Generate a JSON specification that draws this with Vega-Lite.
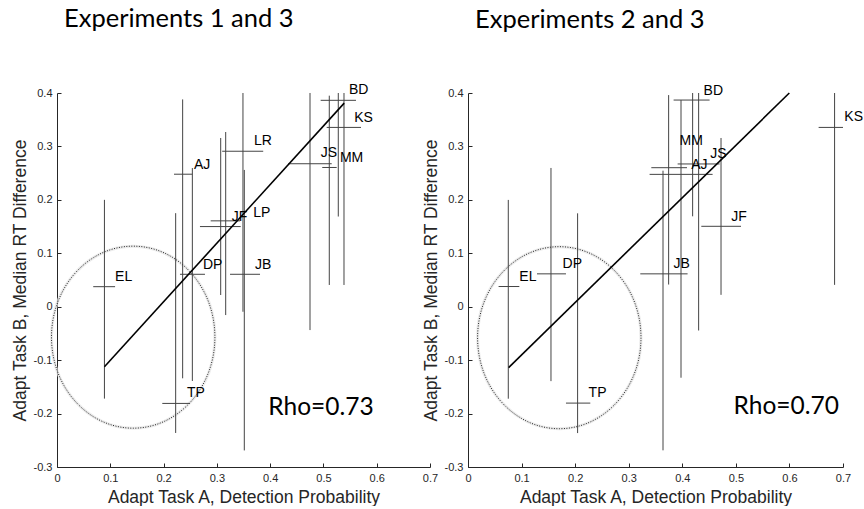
{
  "$schema": "https://vega.github.io/schema/vega-lite/v6.json",
  "background": "white",
  "padding": {"left": 11, "top": 7, "right": 0, "bottom": 0},
  "datasets": {
    "pts13": [
      {"id": "EL", "x": 0.089, "xlo": 0.068, "xhi": 0.109, "y": 0.0375, "ylo": -0.172, "yhi": 0.2, "lx": 0.109, "ly": 0.056},
      {"id": "AJ", "x": 0.2358, "xlo": 0.2196, "xhi": 0.2539, "y": 0.248, "ylo": -0.134, "yhi": 0.388, "lx": 0.257, "ly": 0.266},
      {"id": "DP", "x": 0.254, "xlo": 0.2308, "xhi": 0.2777, "y": 0.0607, "ylo": -0.139, "yhi": 0.2595, "lx": 0.274, "ly": 0.078},
      {"id": "TP", "x": 0.2227, "xlo": 0.1976, "xhi": 0.2496, "y": -0.181, "ylo": -0.2363, "yhi": 0.1751, "lx": 0.244, "ly": -0.161},
      {"id": "JB", "x": 0.3515, "xlo": 0.3247, "xhi": 0.381, "y": 0.0607, "ylo": -0.269, "yhi": 0.256, "lx": 0.3716, "ly": 0.078},
      {"id": "LR", "x": 0.349, "xlo": 0.31, "xhi": 0.387, "y": 0.291, "ylo": -0.0094, "yhi": 0.4, "lx": 0.3697, "ly": 0.311},
      {"id": "JF", "x": 0.3072, "xlo": 0.2683, "xhi": 0.3447, "y": 0.15, "ylo": 0.0219, "yhi": 0.3158, "lx": 0.3278, "ly": 0.1688},
      {"id": "LP", "x": 0.3166, "xlo": 0.2884, "xhi": 0.3434, "y": 0.1607, "ylo": -0.0156, "yhi": 0.327, "lx": 0.3684, "ly": 0.1763},
      {"id": "JS", "x": 0.4748, "xlo": 0.434, "xhi": 0.5155, "y": 0.2676, "ylo": -0.0437, "yhi": 0.4, "lx": 0.4948, "ly": 0.2876},
      {"id": "MM", "x": 0.511, "xlo": 0.4978, "xhi": 0.5249, "y": 0.2606, "ylo": 0.0407, "yhi": 0.395, "lx": 0.531, "ly": 0.2783},
      {"id": "BD", "x": 0.5279, "xlo": 0.4948, "xhi": 0.5611, "y": 0.3863, "ylo": 0.1688, "yhi": 0.4, "lx": 0.548, "ly": 0.406},
      {"id": "KS", "x": 0.5386, "xlo": 0.5061, "xhi": 0.5705, "y": 0.3356, "ylo": 0.0407, "yhi": 0.4, "lx": 0.5579, "ly": 0.3533}
    ],
    "pts23": [
      {"id": "EL", "x": 0.0752, "xlo": 0.0571, "xhi": 0.0958, "y": 0.0378, "ylo": -0.1722, "yhi": 0.1999, "lx": 0.0958, "ly": 0.0565},
      {"id": "DP", "x": 0.1549, "xlo": 0.1288, "xhi": 0.1829, "y": 0.0615, "ylo": -0.1393, "yhi": 0.2597, "lx": 0.1766, "ly": 0.0802},
      {"id": "TP", "x": 0.2046, "xlo": 0.1829, "xhi": 0.2283, "y": -0.1804, "ylo": -0.2365, "yhi": 0.1748, "lx": 0.2251, "ly": -0.1617},
      {"id": "JB", "x": 0.364, "xlo": 0.3216, "xhi": 0.4099, "y": 0.0615, "ylo": -0.2688, "yhi": 0.2546, "lx": 0.3838, "ly": 0.0802},
      {"id": "MM", "x": 0.3745, "xlo": 0.3422, "xhi": 0.4088, "y": 0.2602, "ylo": 0.0415, "yhi": 0.3961, "lx": 0.395, "ly": 0.3094},
      {"id": "AJ", "x": 0.3976, "xlo": 0.339, "xhi": 0.4566, "y": 0.2477, "ylo": -0.1329, "yhi": 0.3868, "lx": 0.4168, "ly": 0.2653},
      {"id": "BD", "x": 0.4193, "xlo": 0.3838, "xhi": 0.451, "y": 0.3868, "ylo": 0.1692, "yhi": 0.4, "lx": 0.4398, "ly": 0.4042},
      {"id": "JS", "x": 0.4305, "xlo": 0.3913, "xhi": 0.4697, "y": 0.2672, "ylo": -0.0445, "yhi": 0.4, "lx": 0.4523, "ly": 0.2858},
      {"id": "JF", "x": 0.4723, "xlo": 0.4355, "xhi": 0.5096, "y": 0.1505, "ylo": 0.0222, "yhi": 0.3158, "lx": 0.4915, "ly": 0.1686},
      {"id": "KS", "x": 0.6843, "xlo": 0.6545, "xhi": 0.7, "y": 0.3356, "ylo": 0.0409, "yhi": 0.4, "lx": 0.7025, "ly": 0.3543}
    ],
    "fit13": [{"x": 0.089, "y": -0.1125}, {"x": 0.539, "y": 0.381}],
    "fit23": [{"x": 0.0758, "y": -0.114}, {"x": 0.5998, "y": 0.4}],
    "ell13": [{"cx": 0.143, "cy": -0.057}],
    "ell23": [{"cx": 0.1704, "cy": -0.058}],
    "rho13": [{"lx": 0.3965, "ly": -0.203, "label": "Rho=0.73"}],
    "rho23": [{"lx": 0.4958, "ly": -0.2015, "label": "Rho=0.70"}]
  },
  "spacing": 38,
  "bounds": "flush",
  "hconcat": [
    {
      "width": 373,
      "height": 374,
      "title": {"text": "Experiments 1 and 3"},
      "layer": [
        {
          "data": {"name": "ell13"},
          "mark": {"type": "point", "shape": "M 1 0 C 1 0.6152 0.5523 1.114 0 1.114 C -0.5523 1.114 -1 0.6152 -1 0 C -1 -0.6152 -0.5523 -1.114 0 -1.114 C 0.5523 -1.114 1 -0.6152 1 0 Z", "size": 26700, "filled": false, "stroke": "#e4e4e4", "strokeWidth": 3, "opacity": 0.7},
          "encoding": {
            "x": {"field": "cx", "type": "quantitative", "title": "Adapt Task A, Detection Probability", "scale": {"domain": [0, 0.7], "nice": false}, "axis": {"values": [0, 0.1, 0.2, 0.3, 0.4, 0.5, 0.6, 0.7], "labelExpr": "replace(format(datum.value, '~g'), '−', '-')", "titlePadding": 5}},
            "y": {"field": "cy", "type": "quantitative", "title": "Adapt Task B, Median RT Difference", "scale": {"domain": [-0.3, 0.4], "nice": false}, "axis": {"values": [-0.3, -0.2, -0.1, 0, 0.1, 0.2, 0.3, 0.4], "labelExpr": "replace(format(datum.value, '~g'), '−', '-')", "titlePadding": 4}}
          }
        },
        {
          "data": {"name": "ell13"},
          "mark": {"type": "point", "shape": "M 1 0 C 1 0.6152 0.5523 1.114 0 1.114 C -0.5523 1.114 -1 0.6152 -1 0 C -1 -0.6152 -0.5523 -1.114 0 -1.114 C 0.5523 -1.114 1 -0.6152 1 0 Z", "size": 26700, "filled": false, "stroke": "#222222", "strokeWidth": 1, "strokeDash": [1, 1.5], "opacity": 1},
          "encoding": {
            "x": {"field": "cx", "type": "quantitative", "title": "Adapt Task A, Detection Probability"},
            "y": {"field": "cy", "type": "quantitative", "title": "Adapt Task B, Median RT Difference"}
          }
        },
        {
          "data": {"name": "pts13"},
          "mark": {"type": "rule", "color": "#444444", "strokeWidth": 1},
          "encoding": {
            "x": {"field": "x", "type": "quantitative", "title": "Adapt Task A, Detection Probability"},
            "y": {"field": "ylo", "type": "quantitative", "title": "Adapt Task B, Median RT Difference"},
            "y2": {"field": "yhi"}
          }
        },
        {
          "data": {"name": "pts13"},
          "mark": {"type": "rule", "color": "#444444", "strokeWidth": 1},
          "encoding": {
            "x": {"field": "xlo", "type": "quantitative", "title": "Adapt Task A, Detection Probability"},
            "x2": {"field": "xhi"},
            "y": {"field": "y", "type": "quantitative", "title": "Adapt Task B, Median RT Difference"}
          }
        },
        {
          "data": {"name": "fit13"},
          "mark": {"type": "line", "color": "#000000", "strokeWidth": 1.6},
          "encoding": {
            "x": {"field": "x", "type": "quantitative", "title": "Adapt Task A, Detection Probability"},
            "y": {"field": "y", "type": "quantitative", "title": "Adapt Task B, Median RT Difference"}
          }
        },
        {
          "data": {"name": "pts13"},
          "mark": {"type": "text", "align": "left", "baseline": "middle", "font": "Liberation Sans", "fontSize": 14, "color": "#000000"},
          "encoding": {
            "x": {"field": "lx", "type": "quantitative", "title": "Adapt Task A, Detection Probability"},
            "y": {"field": "ly", "type": "quantitative", "title": "Adapt Task B, Median RT Difference"},
            "text": {"field": "id"}
          }
        },
        {
          "data": {"name": "rho13"},
          "mark": {"type": "text", "align": "left", "baseline": "alphabetic", "font": "Lato", "fontSize": 24.5, "color": "#000000"},
          "encoding": {
            "x": {"field": "lx", "type": "quantitative", "title": "Adapt Task A, Detection Probability"},
            "y": {"field": "ly", "type": "quantitative", "title": "Adapt Task B, Median RT Difference"},
            "text": {"field": "label"}
          }
        }
      ]
    },
    {
      "width": 375,
      "height": 374,
      "title": {"text": "Experiments 2 and 3"},
      "layer": [
        {
          "data": {"name": "ell23"},
          "mark": {"type": "point", "shape": "M 1 0 C 1 0.6152 0.5523 1.114 0 1.114 C -0.5523 1.114 -1 0.6152 -1 0 C -1 -0.6152 -0.5523 -1.114 0 -1.114 C 0.5523 -1.114 1 -0.6152 1 0 Z", "size": 26700, "filled": false, "stroke": "#e4e4e4", "strokeWidth": 3, "opacity": 0.7},
          "encoding": {
            "x": {"field": "cx", "type": "quantitative", "title": "Adapt Task A, Detection Probability", "scale": {"domain": [0, 0.7], "nice": false}, "axis": {"values": [0, 0.1, 0.2, 0.3, 0.4, 0.5, 0.6, 0.7], "labelExpr": "replace(format(datum.value, '~g'), '−', '-')", "titlePadding": 5}},
            "y": {"field": "cy", "type": "quantitative", "title": "Adapt Task B, Median RT Difference", "scale": {"domain": [-0.3, 0.4], "nice": false}, "axis": {"values": [-0.3, -0.2, -0.1, 0, 0.1, 0.2, 0.3, 0.4], "labelExpr": "replace(format(datum.value, '~g'), '−', '-')", "titlePadding": 4}}
          }
        },
        {
          "data": {"name": "ell23"},
          "mark": {"type": "point", "shape": "M 1 0 C 1 0.6152 0.5523 1.114 0 1.114 C -0.5523 1.114 -1 0.6152 -1 0 C -1 -0.6152 -0.5523 -1.114 0 -1.114 C 0.5523 -1.114 1 -0.6152 1 0 Z", "size": 26700, "filled": false, "stroke": "#222222", "strokeWidth": 1, "strokeDash": [1, 1.5], "opacity": 1},
          "encoding": {
            "x": {"field": "cx", "type": "quantitative", "title": "Adapt Task A, Detection Probability"},
            "y": {"field": "cy", "type": "quantitative", "title": "Adapt Task B, Median RT Difference"}
          }
        },
        {
          "data": {"name": "pts23"},
          "mark": {"type": "rule", "color": "#444444", "strokeWidth": 1},
          "encoding": {
            "x": {"field": "x", "type": "quantitative", "title": "Adapt Task A, Detection Probability"},
            "y": {"field": "ylo", "type": "quantitative", "title": "Adapt Task B, Median RT Difference"},
            "y2": {"field": "yhi"}
          }
        },
        {
          "data": {"name": "pts23"},
          "mark": {"type": "rule", "color": "#444444", "strokeWidth": 1},
          "encoding": {
            "x": {"field": "xlo", "type": "quantitative", "title": "Adapt Task A, Detection Probability"},
            "x2": {"field": "xhi"},
            "y": {"field": "y", "type": "quantitative", "title": "Adapt Task B, Median RT Difference"}
          }
        },
        {
          "data": {"name": "fit23"},
          "mark": {"type": "line", "color": "#000000", "strokeWidth": 1.6},
          "encoding": {
            "x": {"field": "x", "type": "quantitative", "title": "Adapt Task A, Detection Probability"},
            "y": {"field": "y", "type": "quantitative", "title": "Adapt Task B, Median RT Difference"}
          }
        },
        {
          "data": {"name": "pts23"},
          "mark": {"type": "text", "align": "left", "baseline": "middle", "font": "Liberation Sans", "fontSize": 14, "color": "#000000"},
          "encoding": {
            "x": {"field": "lx", "type": "quantitative", "title": "Adapt Task A, Detection Probability"},
            "y": {"field": "ly", "type": "quantitative", "title": "Adapt Task B, Median RT Difference"},
            "text": {"field": "id"}
          }
        },
        {
          "data": {"name": "rho23"},
          "mark": {"type": "text", "align": "left", "baseline": "alphabetic", "font": "Lato", "fontSize": 24.5, "color": "#000000"},
          "encoding": {
            "x": {"field": "lx", "type": "quantitative", "title": "Adapt Task A, Detection Probability"},
            "y": {"field": "ly", "type": "quantitative", "title": "Adapt Task B, Median RT Difference"},
            "text": {"field": "label"}
          }
        }
      ]
    }
  ],
  "config": {
    "view": {"stroke": null},
    "axis": {
      "grid": false,
      "domainColor": "#262626",
      "tickColor": "#262626",
      "labelColor": "#262626",
      "titleColor": "#262626",
      "labelFont": "Liberation Sans",
      "titleFont": "Liberation Sans",
      "labelFontSize": 11,
      "titleFontSize": 17.5,
      "titleFontWeight": "normal",
      "tickSize": -4,
      "labelPadding": 9,
      "domainWidth": 1,
      "tickWidth": 1,
      "labelFlush": false,
      "labelOverlap": false
    },
    "title": {
      "anchor": "start",
      "frame": "group",
      "dx": 7,
      "offset": 50,
      "font": "Lato",
      "fontSize": 25.5,
      "fontWeight": "normal",
      "color": "#000000"
    }
  }
}
